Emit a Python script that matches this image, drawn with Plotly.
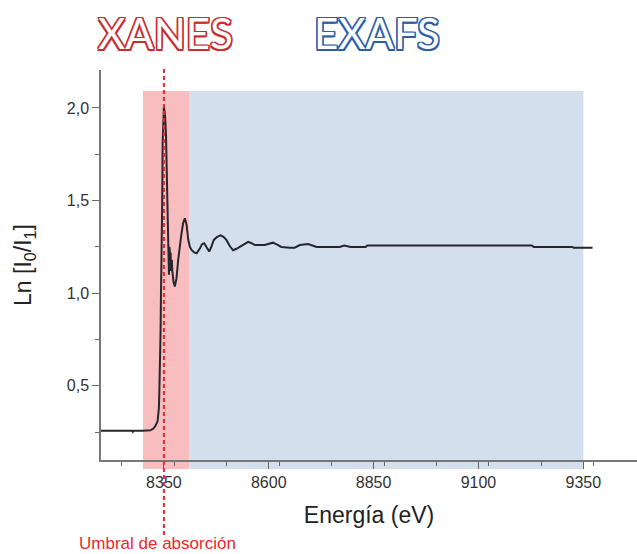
import plotly.graph_objects as go

energy = [8200, 8250, 8274, 8276, 8278, 8300, 8318, 8325, 8330, 8335, 8338, 8339, 8341, 8342,
          8343, 8344.5, 8346, 8347, 8349, 8350, 8351, 8353, 8355, 8357, 8358, 8359, 8360,
          8361, 8362, 8363, 8364, 8365, 8366, 8367, 8369, 8370, 8373, 8376, 8380, 8384,
          8388, 8392, 8396, 8400, 8404, 8408, 8412, 8416, 8422, 8428, 8436, 8441, 8446,
          8452, 8458, 8463, 8469, 8477, 8485, 8492, 8499, 8507, 8515, 8523, 8531, 8541,
          8551, 8559, 8567, 8590, 8600, 8610, 8620, 8630, 8650, 8662, 8674, 8694, 8714,
          8769, 8780, 8795, 8831, 8835, 9227, 9232, 9323, 9327, 9372]
absorb = [0.258, 0.258, 0.258, 0.252, 0.258, 0.258, 0.26, 0.27, 0.285, 0.31, 0.38, 0.46, 0.62, 0.79,
          0.99, 1.19, 1.5, 1.81, 1.98, 2.007, 1.99, 1.95, 1.85, 1.6, 1.43, 1.25, 1.13,
          1.2, 1.1, 1.25, 1.23, 1.12, 1.22, 1.14, 1.18, 1.12, 1.06, 1.036, 1.08, 1.18,
          1.26, 1.325, 1.38, 1.405, 1.37, 1.29, 1.25, 1.234, 1.22, 1.216, 1.243, 1.265, 1.27,
          1.25, 1.225, 1.25, 1.288, 1.305, 1.313, 1.305, 1.288, 1.255, 1.232, 1.24, 1.25, 1.265,
          1.277, 1.27, 1.26, 1.26, 1.268, 1.273, 1.262, 1.25, 1.246, 1.246, 1.26, 1.266, 1.25,
          1.25, 1.258, 1.25, 1.25, 1.258, 1.258, 1.25, 1.25, 1.246, 1.246]

xanes_range = [8300, 8410]
exafs_range = [8410, 9350]
edge_energy = 8350
x_ticks_start = 8350
x_tick_step = 250

fig = go.Figure()
fig.add_trace(go.Scatter(x=energy, y=absorb, mode="lines",
                         line=dict(color="#26262e", width=2), showlegend=False))

# shaded regions (extend slightly below the x-axis line)
fig.add_shape(type="rect", xref="x", yref="paper", x0=xanes_range[0], x1=xanes_range[1],
              y0=-0.023, y1=0.946, fillcolor="rgb(247,189,191)", line_width=0, layer="below")
fig.add_shape(type="rect", xref="x", yref="paper", x0=exafs_range[0], x1=exafs_range[1],
              y0=-0.023, y1=0.946, fillcolor="rgb(211,223,236)", line_width=0, layer="below")
# absorption edge marker
fig.add_shape(type="line", xref="x", yref="paper", x0=edge_energy, x1=edge_energy,
              y0=-0.192, y1=1.003, line=dict(color="rgb(235,40,45)", width=2, dash="4px,3px"),
              layer="above")

def outline(color, w=1.5):
    offs = [(w, 0), (-w, 0), (0, w), (0, -w), (w, w), (-w, -w), (w, -w), (-w, w)]
    return ", ".join(f"{color} {a}px {b}px 0px" for a, b in offs)

fig.add_annotation(text="XANES", xref="paper", yref="paper", x=(165 - 101) / 536,
                   y=(460 - 33) / 390, xanchor="center", yanchor="middle", showarrow=False,
                   font=dict(family="Lato", size=42, color="white",
                             shadow=outline("rgb(200,45,50)")))
fig.add_annotation(text="EXAFS", xref="paper", yref="paper", x=(377 - 101) / 536,
                   y=(460 - 33) / 390, xanchor="center", yanchor="middle", showarrow=False,
                   font=dict(family="Lato", size=42, color="white",
                             shadow=outline("rgb(45,95,165)")))
fig.add_annotation(text="Umbral de absorción", xref="paper", yref="paper",
                   x=(157 - 101) / 536, y=(460 - 543) / 390, xanchor="center",
                   yanchor="middle", showarrow=False, borderpad=0,
                   font=dict(family="Liberation Sans Narrow, Liberation Sans", size=17,
                             color="rgb(235,40,45)"))

axis_common = dict(showline=True, linecolor="#777", linewidth=1.5, ticks="outside",
                   ticklen=7, tickwidth=1.3, tickcolor="#666", showgrid=False, zeroline=False,
                   tickfont=dict(family="Liberation Sans", size=16, color="#333"))

fig.update_xaxes(range=[8200, 9478], tick0=x_ticks_start, dtick=x_tick_step,
                 minor=dict(dtick=x_tick_step / 2, ticks="outside", ticklen=4,
                            tickcolor="#666", tickwidth=1.3),
                 title=dict(text="Energía (eV)", standoff=17,
                            font=dict(family="Liberation Sans", size=23, color="#222")),
                 **axis_common)
fig.update_yaxes(range=[0.1, 2.205], tick0=0, dtick=0.5, tickformat=".1f",
                 minor=dict(dtick=0.25, ticks="outside", ticklen=4,
                            tickcolor="#666", tickwidth=1.3),
                 title=dict(text="Ln [I<sub>0</sub>/I<sub>1</sub>]", standoff=29,
                            font=dict(family="Liberation Sans", size=23, color="#222")),
                 **axis_common)

fig.update_layout(width=637, height=554, margin=dict(l=101, r=0, t=70, b=94),
                  paper_bgcolor="white", plot_bgcolor="white", separators=", ",
                  showlegend=False)

fig.write_html("out.html", config={"displayModeBar": False},
               post_script="document.body.style.margin='0';document.body.style.overflow='hidden';")
